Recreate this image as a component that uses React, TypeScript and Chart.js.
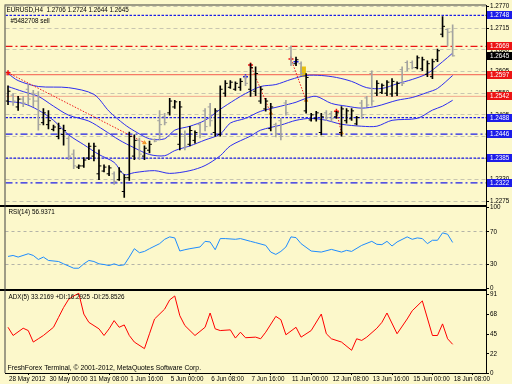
import { useEffect, useRef } from 'react';
import { Chart, registerables } from 'chart.js';

Chart.register(...registerables);

// ---------- texts ----------
const HEADER_TEXT = 'EURUSD,H4  1.2706 1.2724 1.2644 1.2645';
const ORDER_TEXT = '#5482708 sell';
const RSI_TEXT = 'RSI(14) 56.9371';
const ADX_TEXT = 'ADX(5) 33.2169 +DI:16.2925 -DI:25.8526';
const COPYRIGHT_TEXT = 'FreshForex Terminal, \u00a9 2001-2012, MetaQuotes Software Corp.';

// ---------- time axis (one label every 8 H4 bars) ----------
const timeLabels = ['28 May 2012', '30 May 00:00', '31 May 08:00', '1 Jun 16:00', '5 Jun 00:00', '6 Jun 08:00',
  '7 Jun 16:00', '11 Jun 00:00', '12 Jun 08:00', '13 Jun 16:00', '15 Jun 00:00', '18 Jun 08:00'];
const BARS_PER_LABEL = 8;

// ---------- OHLC (bar index = position in arrays) ----------
const opens = [1.2530, 1.2545, 1.2515, 1.2535, 1.2560, 1.2550, 1.2530, 1.2475, 1.2470, 1.2458,
  1.2440, 1.2445, 1.2435, 1.2395, 1.2362, 1.2365, 1.2385, 1.2390, 1.2345, 1.2352,
  1.2345, 1.2345, 1.2330, 1.2300, 1.2335, 1.2390, 1.2430, 1.2390, 1.2405, 1.2432,
  1.2480, 1.2490, 1.2500, 1.2515, 1.2420, 1.2445, 1.2420, 1.2430, 1.2470, 1.2505,
  1.2515, 1.2450, 1.2445, 1.2550, 1.2565, 1.2560, 1.2565, 1.2590, 1.2560, 1.2555,
  1.2530, 1.2510, 1.2460, 1.2470, 1.2480, 1.2525, 1.2665, 1.2625, 1.2625, 1.2505,
  1.2482, 1.2485, 1.2450, 1.2500, 1.2498, 1.2490, 1.2450, 1.2480, 1.2485, 1.2472,
  1.2525, 1.2538, 1.2600, 1.2550, 1.2552, 1.2550, 1.2548, 1.2550, 1.2610, 1.2628,
  1.2628, 1.2615, 1.2612, 1.2598, 1.2592, 1.2635, 1.2700, 1.2712, 1.2706];
const highs = [1.2569, 1.2549, 1.2542, 1.2542, 1.2572, 1.2557, 1.2554, 1.2511, 1.2506, 1.2469,
  1.2474, 1.2469, 1.2441, 1.2406, 1.2368, 1.2386, 1.2423, 1.2423, 1.2406, 1.2368,
  1.2366, 1.2350, 1.2361, 1.2343, 1.2451, 1.2444, 1.2436, 1.2416, 1.2428, 1.2434,
  1.2506, 1.2499, 1.2537, 1.2532, 1.2529, 1.2454, 1.2466, 1.2454, 1.2474, 1.2511,
  1.2524, 1.2511, 1.2569, 1.2582, 1.2582, 1.2579, 1.2587, 1.2595, 1.2625, 1.2617,
  1.2567, 1.2537, 1.2524, 1.2474, 1.2486, 1.2532, 1.2670, 1.2642, 1.2630, 1.2600,
  1.2499, 1.2504, 1.2499, 1.2506, 1.2504, 1.2504, 1.2516, 1.2511, 1.2511, 1.2491,
  1.2532, 1.2542, 1.2607, 1.2582, 1.2574, 1.2582, 1.2587, 1.2579, 1.2617, 1.2632,
  1.2632, 1.2645, 1.2642, 1.2632, 1.2637, 1.2662, 1.2745, 1.2713, 1.2724];
const lows = [1.2521, 1.2519, 1.2506, 1.2516, 1.2521, 1.2516, 1.2456, 1.2469, 1.2459, 1.2454,
  1.2434, 1.2418, 1.2381, 1.2358, 1.2358, 1.2361, 1.2381, 1.2378, 1.2330, 1.2350,
  1.2340, 1.2318, 1.2328, 1.2285, 1.2328, 1.2381, 1.2381, 1.2381, 1.2398, 1.2426,
  1.2431, 1.2469, 1.2494, 1.2511, 1.2406, 1.2406, 1.2416, 1.2423, 1.2436, 1.2454,
  1.2466, 1.2441, 1.2441, 1.2542, 1.2562, 1.2557, 1.2557, 1.2569, 1.2542, 1.2544,
  1.2524, 1.2504, 1.2454, 1.2439, 1.2431, 1.2494, 1.2620, 1.2620, 1.2595, 1.2499,
  1.2479, 1.2479, 1.2444, 1.2481, 1.2479, 1.2486, 1.2441, 1.2474, 1.2481, 1.2469,
  1.2486, 1.2516, 1.2519, 1.2544, 1.2549, 1.2544, 1.2542, 1.2544, 1.2569, 1.2607,
  1.2612, 1.2612, 1.2607, 1.2592, 1.2587, 1.2630, 1.2693, 1.2670, 1.2644];
const closes = [1.2555, 1.2530, 1.2535, 1.2525, 1.2535, 1.2530, 1.2470, 1.2500, 1.2480, 1.2464,
  1.2460, 1.2455, 1.2390, 1.2365, 1.2365, 1.2380, 1.2415, 1.2415, 1.2365, 1.2362,
  1.2360, 1.2325, 1.2350, 1.2335, 1.2440, 1.2430, 1.2395, 1.2410, 1.2420, 1.2428,
  1.2470, 1.2475, 1.2530, 1.2528, 1.2515, 1.2415, 1.2455, 1.2450, 1.2445, 1.2465,
  1.2480, 1.2505, 1.2560, 1.2575, 1.2578, 1.2575, 1.2580, 1.2575, 1.2615, 1.2600,
  1.2560, 1.2530, 1.2515, 1.2445, 1.2440, 1.2500, 1.2625, 1.2635, 1.2600, 1.2590,
  1.2495, 1.2500, 1.2490, 1.2488, 1.2485, 1.2500, 1.2510, 1.2505, 1.2505, 1.2488,
  1.2495, 1.2520, 1.2530, 1.2575, 1.2570, 1.2578, 1.2580, 1.2575, 1.2575, 1.2612,
  1.2615, 1.2640, 1.2635, 1.2625, 1.2630, 1.2658, 1.2720, 1.2705, 1.2645];

// ---------- bands (read at bar indices) ----------
const upperIdx = [0, 2, 6, 12, 17, 20, 23, 25, 28, 31, 33, 36, 39, 42, 45, 47, 50, 53, 56, 59, 62, 65, 68, 71, 74, 77, 80, 83, 86, 88];
const upperVals = [1.2600, 1.2582, 1.2567, 1.2564, 1.2547, 1.2504, 1.2471, 1.2454, 1.2434, 1.2434,
  1.2456, 1.2466, 1.2481, 1.2509, 1.2534, 1.2549, 1.2567, 1.2572, 1.2585, 1.2595,
  1.2595, 1.2590, 1.2580, 1.2564, 1.2562, 1.2574, 1.2585, 1.2600, 1.2630, 1.2652];
const middleIdx = [0, 3, 6, 9, 12, 16, 19, 22, 25, 28, 31, 33, 36, 39, 42, 44, 47, 50, 54, 57, 59, 61, 64, 67, 70, 73, 77, 80, 83, 85, 88];
const middleVals = [1.2567, 1.2554, 1.2542, 1.2517, 1.2494, 1.2479, 1.2456, 1.2431, 1.2411, 1.2394,
  1.2391, 1.2404, 1.2416, 1.2431, 1.2446, 1.2474, 1.2486, 1.2504, 1.2517, 1.2527,
  1.2537, 1.2542, 1.2524, 1.2517, 1.2512, 1.2517, 1.2532, 1.2539, 1.2552, 1.2562, 1.2595];
const lowerIdx = [0, 3, 6, 9, 12, 15, 18, 21, 23, 25, 29, 32, 36, 39, 42, 44, 48, 50, 54, 57, 60, 63, 66, 70, 73, 76, 81, 84, 86, 88];
const lowerVals = [1.2529, 1.2524, 1.2507, 1.2481, 1.2444, 1.2419, 1.2394, 1.2374, 1.2343, 1.2348,
  1.2353, 1.2346, 1.2353, 1.2366, 1.2391, 1.2416, 1.2441, 1.2456, 1.2469, 1.2481,
  1.2486, 1.2481, 1.2471, 1.2466, 1.2466, 1.2481, 1.2486, 1.2507, 1.2517, 1.2532];

// ---------- horizontal levels ----------
const levelPrices = [1.2748, 1.2669, 1.2597, 1.2542, 1.2488, 1.2446, 1.2385, 1.2322];
const currentPrice = 1.2645;
const priceTicks = [1.2770, 1.2715, 1.2660, 1.2605, 1.2550, 1.2495, 1.2440, 1.2385, 1.2330, 1.2275];

// ---------- trade history ----------
const tradeOpenIdx = [0, 48, 56, 65];
const tradeOpenPrice = [1.2602, 1.2622, 1.2637, 1.2504];
const tradeCloseIdx = [27, 52, 59, 66];
const tradeClosePrice = [1.2424, 1.2499, 1.2532, 1.2449];
const blueMarkIdx = [47, 57];
const blueMarkPrice = [1.2592, 1.2630];
const boxIdx = 58.4;
const boxRange = [1.2592, 1.2617];

// ---------- RSI(14) ----------
const rsiIdx = [0, 1, 2, 4, 5, 6, 7, 8, 10, 11, 13, 14, 15, 16, 17, 18, 19, 20, 21, 22,
  23, 24, 25, 26, 27, 28, 30, 31, 32, 33, 34, 35, 36, 38, 39, 40, 41, 42, 43, 45,
  46, 48, 49, 51, 52, 53, 54, 55, 56, 57, 58, 60, 62, 64, 66, 67, 68, 70, 72, 73,
  74, 75, 76, 77, 79, 80, 81, 82, 83, 84, 85, 86, 87, 88];
const rsiVals = [39.6, 40.8, 38.8, 42.9, 40.8, 35.8, 38.8, 34.6, 33.3, 30.4, 25, 25, 30.4, 34.6, 33.3, 30.4, 29.6, 28.3, 30.4, 28.3,
  29.2, 38.8, 49.2, 44.2, 45.8, 49.2, 55.4, 60.8, 63.8, 62.5, 46.3, 47.9, 49.2, 51.3, 58.3, 57.5, 47.9, 61.7, 61.7, 60.8,
  61.7, 58.3, 56.7, 53.3, 45, 42.1, 45.8, 51.3, 63.8, 62.9, 55.4, 46.3, 45, 48.3, 45, 47.1, 45.8, 53.3, 58.3, 54.6,
  54.2, 58.3, 52.5, 57.5, 63.8, 60.8, 62.5, 61.7, 55.4, 59.6, 59.6, 68.8, 67.1, 56.9];
const rsiTicks = [0, 30, 70, 100];
const rsiLevels = [30, 70];

// ---------- ADX(5) ----------
const adxIdx = [0, 1, 3, 4, 5, 6, 7, 9, 10, 11, 12, 13, 14, 15, 16, 18, 19, 20, 21, 22,
  23, 24, 25, 27, 28, 29, 31, 32, 33, 34, 35, 37, 39, 40, 41, 42, 44, 45, 46, 47,
  49, 50, 51, 53, 54, 55, 57, 58, 60, 62, 63, 64, 66, 68, 69, 70, 71, 73, 74, 75,
  77, 79, 80, 82, 84, 85, 86, 87, 88];
const adxVals = [52.9, 43.4, 51.8, 49.1, 35.8, 39.6, 43.4, 52.9, 64.4, 75.8, 85.3, 89.1, 92.2, 68.2, 58.6, 51.1, 43.4, 51.1, 60.6, 52.9,
  55.6, 43.4, 35.8, 28.2, 45.4, 62.5, 73.9, 84.6, 89.1, 66.3, 54.9, 43.4, 52.9, 69.4, 51.1, 49.1, 49.9, 40.4, 47.2, 40.8,
  41.5, 39.6, 47.2, 65.5, 61.7, 44.2, 52.9, 41.5, 49.1, 68.2, 45.4, 39.6, 35.8, 26.3, 39.6, 37.7, 41.5, 51.8, 58.6, 69.4,
  45.4, 62.5, 72, 83.4, 43.4, 43.4, 56.8, 39.6, 33.2];
const adxTicks = [0, 22, 45, 68, 91];

// ---------- styles (not data) ----------
const FONT = 'Liberation Sans, Arial, Helvetica, sans-serif';
const FS = 6.3;
const BG = '#fcf8cb';
const BLUE = '#1c1ce8';
const RED = '#ec1414';
const UP_COLOR = '#000000';
const DOWN_COLOR = '#a4a4a0';
const BAND_COLOR = '#2e2ef0';
const X_MIN = -0.5;
const X_MAX = 94.6;
const TICK_OFFSET = 0.24;
const LEVEL_STYLES = [
  { color: BLUE, dash: [2.5, 1.5], width: 1.2, box: BLUE },
  { color: RED, dash: [7, 3, 2, 3], width: 1.2, box: RED },
  { color: '#f45a4a', dash: [], width: 1, box: RED },
  { color: '#f2a88c', dash: [], width: 1, box: RED },
  { color: BLUE, dash: [2.5, 1.5], width: 1.2, box: BLUE },
  { color: BLUE, dash: [7, 3, 2, 3], width: 1.2, box: BLUE },
  { color: BLUE, dash: [2.5, 1.5], width: 1.2, box: BLUE },
  { color: BLUE, dash: [7, 3, 2, 3], width: 1.2, box: BLUE },
];

const isUp = (i: number) => closes[i] >= opens[i];
const pts = (xs: number[], ys: number[]) => xs.map((x, k) => ({ x, y: ys[k] }));

const bgPlugin = {
  id: 'mtBackground',
  beforeDraw(chart: any) {
    const { ctx, width, height } = chart;
    ctx.save();
    ctx.fillStyle = BG;
    ctx.fillRect(0, 0, width, height);
    ctx.restore();
  },
};

const overlayPlugin = {
  id: 'mtOverlay',
  afterDraw(chart: any) {
    const { ctx, chartArea } = chart;
    const yP = chart.scales.y;
    const yR = chart.scales.yRsi;
    const yA = chart.scales.yAdx;
    ctx.save();
    // pane separators and frame
    ctx.fillStyle = '#000';
    ctx.fillRect(0, Math.round(yP.bottom) - 1, chartArea.right + 1, 2);
    ctx.fillRect(0, Math.round(yR.bottom) - 1, chartArea.right + 1, 2);
    ctx.fillStyle = '#404040';
    ctx.fillRect(chartArea.left - 1, chartArea.top, 1, chartArea.bottom - chartArea.top);
    ctx.fillRect(chartArea.left - 1, chartArea.top - 1, chartArea.right - chartArea.left + 1, 1);

    // texts
    ctx.fillStyle = '#000';
    ctx.textBaseline = 'middle';
    ctx.textAlign = 'left';
    ctx.font = `${FS}px ${FONT}`;
    ctx.fillText(HEADER_TEXT, chartArea.left + 1, chartArea.top + 5);
    ctx.fillText(ORDER_TEXT, chartArea.left + 5, yP.getPixelForValue(levelPrices[0]) + 6);
    ctx.fillText(RSI_TEXT, chartArea.left + 3, yR.top + 6);
    ctx.fillText(ADX_TEXT, chartArea.left + 3, yA.top + 7);
    ctx.font = `6.8px ${FONT}`;
    ctx.fillText(COPYRIGHT_TEXT, chartArea.left + 2, yA.bottom - 5);

    // price boxes on the right axis
    const drawBox = (p: number, color: string) => {
      const py = yP.getPixelForValue(p);
      ctx.fillStyle = color;
      ctx.fillRect(chartArea.right + 1, Math.round(py) - 4, chart.width - chartArea.right - 1, 8);
      ctx.fillStyle = '#fff';
      ctx.font = `${FS}px ${FONT}`;
      ctx.fillText(p.toFixed(4), chartArea.right + 4, Math.round(py));
    };
    levelPrices.forEach((p, k) => drawBox(p, LEVEL_STYLES[k].box));
    drawBox(currentPrice, '#000');
    ctx.restore();
  },
};

export default function App() {
  const ref = useRef<HTMLCanvasElement | null>(null);

  useEffect(() => {
    const canvas = ref.current;
    if (!canvas) return;
    const barIdx = opens.map((_, i) => i);
    const tickFont = { family: FONT, size: FS };

    const datasets: any[] = [];
    // OHLC: high-low range
    datasets.push({
      type: 'bar',
      data: barIdx.map((i) => ({ x: i, y: [lows[i], highs[i]] })),
      backgroundColor: (c: any) => (isUp(c.dataIndex) ? UP_COLOR : DOWN_COLOR),
      borderWidth: 0,
      barThickness: 1,
      grouped: false,
      yAxisID: 'y',
    });
    // open ticks (left) / close ticks (right)
    datasets.push({
      type: 'line', showLine: false,
      data: barIdx.map((i) => ({ x: i - TICK_OFFSET, y: opens[i] })),
      pointStyle: 'line', pointRadius: 1.25, pointBorderWidth: 1,
      pointBorderColor: (c: any) => (isUp(c.dataIndex) ? UP_COLOR : DOWN_COLOR),
      yAxisID: 'y',
    });
    datasets.push({
      type: 'line', showLine: false,
      data: barIdx.map((i) => ({ x: i + TICK_OFFSET, y: closes[i] })),
      pointStyle: 'line', pointRadius: 1.25, pointBorderWidth: 1,
      pointBorderColor: (c: any) => (isUp(c.dataIndex) ? UP_COLOR : DOWN_COLOR),
      yAxisID: 'y',
    });
    // trade markers
    datasets.push({
      type: 'line', showLine: false, data: pts(tradeOpenIdx, tradeOpenPrice),
      pointStyle: 'cross', pointRadius: 2.5, pointBorderWidth: 1.5, pointBorderColor: '#f01010', yAxisID: 'y',
    });
    datasets.push({
      type: 'line', showLine: false, data: pts(tradeCloseIdx, tradeClosePrice),
      pointStyle: 'triangle', pointRadius: 2, pointBorderWidth: 1, pointBorderColor: '#f09020',
      pointBackgroundColor: '#f0a030', yAxisID: 'y',
    });
    datasets.push({
      type: 'line', showLine: false, data: pts(blueMarkIdx, blueMarkPrice),
      pointStyle: 'cross', pointRadius: 2.5, pointBorderWidth: 1.5, pointBorderColor: BLUE, yAxisID: 'y',
    });
    // trade lines
    tradeOpenIdx.forEach((x, k) => {
      datasets.push({
        type: 'line',
        data: [{ x, y: tradeOpenPrice[k] }, { x: tradeCloseIdx[k], y: tradeClosePrice[k] }],
        borderColor: '#f01818', borderWidth: 1, borderDash: [1.5, 1.5], pointRadius: 0, yAxisID: 'y',
      });
    });
    // bands
    [[upperIdx, upperVals], [middleIdx, middleVals], [lowerIdx, lowerVals]].forEach(([xs, ys]) => {
      datasets.push({
        type: 'line', data: pts(xs as number[], ys as number[]),
        borderColor: BAND_COLOR, borderWidth: 1, pointRadius: 0, tension: 0.3, yAxisID: 'y',
      });
    });
    // yellow box object
    datasets.push({
      type: 'bar', data: [{ x: boxIdx, y: boxRange }], backgroundColor: '#e8c010',
      barThickness: 5, grouped: false, borderWidth: 0, yAxisID: 'y',
    });
    // horizontal levels
    levelPrices.forEach((p, k) => {
      const st = LEVEL_STYLES[k];
      datasets.push({
        type: 'line', data: [{ x: X_MIN, y: p }, { x: X_MAX, y: p }],
        borderColor: st.color, borderWidth: st.width, borderDash: st.dash, pointRadius: 0, yAxisID: 'y',
      });
    });
    // RSI
    datasets.push({
      type: 'line', data: pts(rsiIdx, rsiVals), borderColor: '#1e8cff', borderWidth: 1,
      pointRadius: 0, yAxisID: 'yRsi',
    });
    // ADX
    datasets.push({
      type: 'line', data: pts(adxIdx, adxVals), borderColor: '#ff0000', borderWidth: 1,
      pointRadius: 0, yAxisID: 'yAdx',
    });

    const rightAxis = (extra: any) => ({
      type: 'linear',
      position: 'right',
      stack: 'panes',
      afterFit: (s: any) => { s.width = 26; },
      border: { display: true, color: '#000', width: 1 },
      ...extra,
    });

    const chart = new Chart(canvas, {
      type: 'line',
      data: { datasets },
      options: {
        animation: false,
        responsive: false,
        maintainAspectRatio: false,
        events: [],
        layout: { padding: { top: 1, left: 1, right: 0, bottom: 0 } },
        plugins: { legend: { display: false }, tooltip: { enabled: false } },
        scales: {
          x: {
            type: 'linear', min: X_MIN, max: X_MAX, offset: false, position: 'bottom',
            afterBuildTicks: (s: any) => { s.ticks = timeLabels.map((_, k) => ({ value: k * BARS_PER_LABEL })); },
            afterFit: (s: any) => { s.height = 11; },
            grid: { drawOnChartArea: false, tickLength: 2, color: '#000' },
            border: { display: true, color: '#000' },
            ticks: {
              autoSkip: false, maxRotation: 0, align: 'start', padding: 0, labelOffset: 1,
              font: tickFont, color: '#000',
              callback: (v: any) => timeLabels[Math.round(Number(v) / BARS_PER_LABEL)] ?? '',
            },
          },
          y: rightAxis({
            stackWeight: 203, min: 1.2263, max: 1.2773,
            afterBuildTicks: (s: any) => { s.ticks = priceTicks.map((value) => ({ value })); },
            grid: { color: '#c9c6b0', tickLength: 3, tickColor: '#000', tickBorderDash: [] },
            border: { display: true, color: '#000', width: 1, dash: [4, 3] },
            ticks: { font: tickFont, color: '#000', padding: 1, callback: (v: any) => Number(v).toFixed(4) },
          }),
          yRsi: rightAxis({
            stackWeight: 85, min: -2, max: 102,
            afterBuildTicks: (s: any) => { s.ticks = rsiTicks.map((value) => ({ value })); },
            grid: {
              tickLength: 3, tickColor: '#000', tickBorderDash: [],
              color: (c: any) => (c.tick && rsiLevels.includes(c.tick.value) ? '#b4b4a8' : 'rgba(0,0,0,0)'),
            },
            border: { display: true, color: '#000', width: 1, dash: [3, 3] },
            ticks: { font: tickFont, color: '#000', padding: 1 },
          }),
          yAdx: rightAxis({
            stackWeight: 84, min: 0, max: 96,
            afterBuildTicks: (s: any) => { s.ticks = adxTicks.map((value) => ({ value })); },
            grid: { drawOnChartArea: false, tickLength: 3, tickColor: '#000' },
            ticks: { font: tickFont, color: '#000', padding: 1 },
          }),
        },
      } as any,
      plugins: [bgPlugin, overlayPlugin],
    });
    return () => chart.destroy();
  }, []);

  return (
    <div style={{ position: 'fixed', left: 0, top: 0, width: 512, height: 384 }}>
      <canvas ref={ref} width={512} height={384} style={{ width: 512, height: 384, display: 'block' }} />
    </div>
  );
}
